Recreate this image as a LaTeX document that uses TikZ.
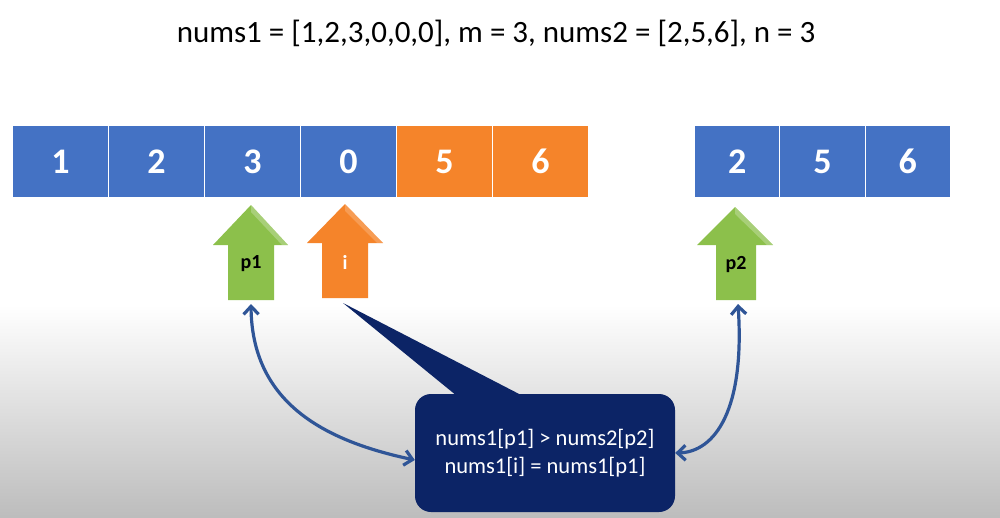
\documentclass[tikz,border=0pt]{standalone}
\usepackage{fontspec}
\setmainfont{Carlito}
\usetikzlibrary{arrows.meta}
\definecolor{cblue}{HTML}{4472C4}
\definecolor{corange}{HTML}{F5842A}
\definecolor{cgreen}{HTML}{8CC04B}
\definecolor{cnavy}{HTML}{0C2466}
\definecolor{cline}{HTML}{2F5597}
\tikzset{
  cell/.style={draw=white, line width=1pt, text=white, font=\fontsize{36}{38}\selectfont\bfseries, minimum height=72pt, inner sep=0pt, anchor=north west},
  conn/.style={draw=cline, line width=3.2pt, {Straight Barb[length=8pt,width=15pt]}-{Straight Barb[length=8pt,width=15pt]}},
}
\begin{document}
\begin{tikzpicture}[x=1pt,y=-1pt]
\useasboundingbox (0,0) rectangle (1000,517);
\fill[white] (0,0) rectangle (1000,517);
\shade[top color=white, bottom color=black!26] (0,305) rectangle (1000,517);
% title
\node[font=\fontsize{31}{34}\selectfont] (title) at (496,33) {nums1 = [1,2,3,0,0,0], m = 3, nums2 = [2,5,6], n = 3};
% first array
\node[cell, fill=cblue, minimum width=96pt] (a1) at (12,125) {1};
\node[cell, fill=cblue, minimum width=96pt] (a2) at (108,125) {2};
\node[cell, fill=cblue, minimum width=96pt] (a3) at (204,125) {3};
\node[cell, fill=cblue, minimum width=96pt] (a4) at (300,125) {0};
\node[cell, fill=corange, minimum width=96pt] (a5) at (396,125) {5};
\node[cell, fill=corange, minimum width=96pt] (a6) at (492,125) {6};
% second array
\node[cell, fill=cblue, minimum width=85.3pt] (b1) at (694,125) {2};
\node[cell, fill=cblue, minimum width=85.3pt] (b2) at (779.3,125) {5};
\node[cell, fill=cblue, minimum width=85.3pt] (b3) at (864.6,125) {6};
% pointer arrows
\fill[cgreen] (251,205) -- (288,245) -- (274,245) -- (274,300) -- (228,300) -- (228,245) -- (213,245) -- cycle;
\fill[white,opacity=0.25] (251,205) -- (288,245) -- (282,245) -- (251,212) -- cycle;
\node[font=\fontsize{20}{22}\selectfont\bfseries] (p1) at (251,264) {p1};
\coordinate (p1bot) at (251,304);
\fill[corange] (345,204) -- (383,243) -- (368,243) -- (368,298) -- (322,298) -- (322,243) -- (307,243) -- cycle;
\fill[white,opacity=0.2] (345,204) -- (383,243) -- (377,243) -- (345,211) -- cycle;
\node[font=\fontsize{20}{22}\selectfont\bfseries, text=white] (i) at (345,262) {i};
\fill[cgreen] (735,207) -- (773,245) -- (756,245) -- (756,300) -- (716,300) -- (716,245) -- (697,245) -- cycle;
\fill[white,opacity=0.25] (735,207) -- (773,245) -- (767,245) -- (735,214) -- cycle;
\node[font=\fontsize{20}{22}\selectfont\bfseries] (p2) at (736,265) {p2};
\coordinate (p2bot) at (738,304);
% callout
\coordinate (tip) at (343,303);
\fill[cnavy] (tip) -- (523,396) -- (457,396) -- cycle;
\node[fill=cnavy, rounded corners=16pt, minimum width=260pt, minimum height=118pt, text=white, align=center, font=\fontsize{22.5}{28}\selectfont] (box) at (545,453) {nums1[p1] > nums2[p2]\\nums1[i] = nums1[p1]};
% connectors
\draw[conn] (p1bot) .. controls (252,400) and (320,440) .. ([yshift=-7pt]box.west);
\draw[conn] (p2bot) .. controls (745,410) and (715,452) .. (box.east);
\end{tikzpicture}
\end{document}
